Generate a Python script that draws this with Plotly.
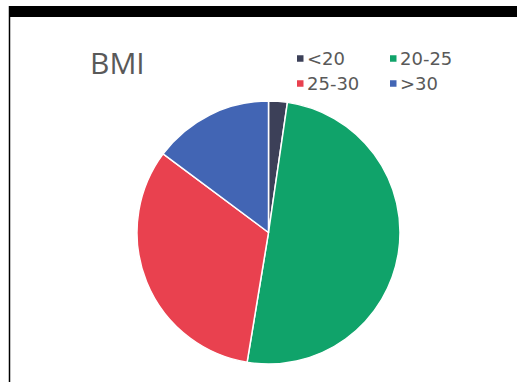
import plotly.graph_objects as go

categories = ["<20", "20-25", "25-30", ">30"]
values = [2.3, 50.3, 32.6, 14.8]
colors = ["#3c4058", "#10a36a", "#e9414f", "#4265b4"]
title_text = "BMI"

W, H = 517, 382

fig = go.Figure(
    go.Pie(
        labels=categories,
        values=values,
        sort=False,
        direction="clockwise",
        rotation=0,
        marker=dict(colors=colors, line=dict(color="white", width=1.5)),
        textinfo="none",
        hoverinfo="label+value",
        showlegend=False,
        domain=dict(x=[137 / W, 400 / W], y=[1 - 364 / H, 1 - 101 / H]),
    )
)

# custom two-column legend (layout positions in pixels)
col_x = [297, 390]
row_y = [58.5, 83.5]
sq = 6.5
shapes = [
    dict(type="rect", xref="paper", yref="paper",
         x0=9 / W, x1=1, y0=1 - 17 / H, y1=1 - 6 / H,
         fillcolor="black", line=dict(width=0)),
    dict(type="line", xref="paper", yref="paper",
         x0=9.5 / W, x1=9.5 / W, y0=0, y1=1 - 6 / H,
         line=dict(color="black", width=1.5)),
]
annotations = []
for i, (cat, col) in enumerate(zip(categories, colors)):
    cx = col_x[i % 2]
    cy = row_y[i // 2]
    shapes.append(dict(
        type="rect", xref="paper", yref="paper",
        x0=cx / W, x1=(cx + sq) / W,
        y0=1 - (cy + sq / 2) / H, y1=1 - (cy - sq / 2) / H,
        fillcolor=col, line=dict(width=0),
    ))
    annotations.append(dict(
        text=cat, xref="paper", yref="paper",
        x=(cx + sq + 1) / W, y=1 - cy / H,
        xanchor="left", yanchor="middle", showarrow=False,
        font=dict(size=18, color="#595959", family="DejaVu Sans"),
    ))

fig.update_layout(
    width=W,
    height=H,
    margin=dict(l=0, r=0, t=0, b=0),
    paper_bgcolor="white",
    plot_bgcolor="white",
    font=dict(family="DejaVu Sans", color="#595959"),
    title=dict(
        text=title_text,
        x=90 / W,
        xanchor="left",
        y=1 - 63 / H,
        yanchor="middle",
        font=dict(size=30, color="#595959", family="Open Sans"),
    ),
    showlegend=False,
    shapes=shapes,
    annotations=annotations,
)

fig.write_html(
    "out.html",
    config={"displayModeBar": False},
    post_script="document.body.style.margin='0px';document.body.style.overflow='hidden';",
)
